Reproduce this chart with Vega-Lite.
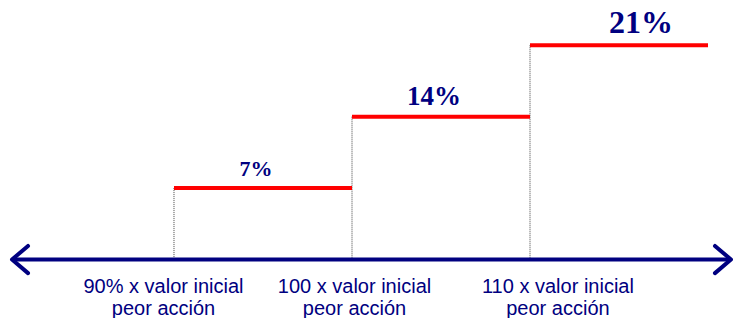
{
  "$schema": "https://vega.github.io/schema/vega-lite/v6.json",
  "width": 733,
  "height": 318,
  "autosize": {"type": "fit", "contains": "padding"},
  "padding": 0,
  "background": "white",
  "config": {"view": {"stroke": null}},
  "datasets": {
    "steps": [
      {"x": 1, "xend": 2, "pct": 7, "label": "7%", "lx": 1.461},
      {"x": 2, "xend": 3, "pct": 14, "label": "14%", "lx": 2.461},
      {"x": 3, "xend": 4, "pct": 21, "label": "21%", "lx": 3.624}
    ],
    "axis": [{"xa": 0.09, "xb": 4.129, "v": 0}],
    "arrows": [
      {"x": 0.09, "dir": "left", "v": 0},
      {"x": 4.129, "dir": "right", "v": 0}
    ],
    "cats": [
      {"lx": 0.941, "text": "90% x valor inicial\npeor acción", "v": 0},
      {"lx": 2.014, "text": "100 x valor inicial\npeor acción", "v": 0},
      {"lx": 3.157, "text": "110 x valor inicial\npeor acción", "v": 0}
    ]
  },
  "layer": [
    {
      "data": {"name": "steps"},
      "mark": {"type": "rule", "color": "#444444", "strokeWidth": 1, "strokeDash": [1, 1]},
      "encoding": {
        "x": {"field": "x", "type": "quantitative", "scale": {"domain": [0.0225, 4.1404], "nice": false, "zero": false}, "axis": null},
        "y": {"field": "pct", "type": "quantitative", "scale": {"domain": [-5.437, 25.437], "nice": false, "zero": false}, "axis": null},
        "y2": {"datum": 0}
      }
    },
    {
      "data": {"name": "steps"},
      "mark": {"type": "rule", "color": "#ff0000", "strokeWidth": 4},
      "encoding": {
        "x": {"field": "x", "type": "quantitative", "scale": {"domain": [0.0225, 4.1404], "nice": false, "zero": false}, "axis": null},
        "x2": {"field": "xend"},
        "y": {"field": "pct", "type": "quantitative", "scale": {"domain": [-5.437, 25.437], "nice": false, "zero": false}, "axis": null}
      }
    },
    {
      "data": {"name": "axis"},
      "mark": {"type": "rule", "color": "#000080", "strokeWidth": 4},
      "encoding": {
        "x": {"field": "xa", "type": "quantitative", "scale": {"domain": [0.0225, 4.1404], "nice": false, "zero": false}, "axis": null},
        "x2": {"field": "xb"},
        "y": {"field": "v", "type": "quantitative", "scale": {"domain": [-5.437, 25.437], "nice": false, "zero": false}, "axis": null}
      }
    },
    {
      "data": {"name": "arrows"},
      "mark": {"type": "point", "filled": false, "color": "#000080", "strokeWidth": 4, "strokeJoin": "round", "strokeCap": "round", "size": 1024, "opacity": 1},
      "encoding": {
        "x": {"field": "x", "type": "quantitative", "scale": {"domain": [0.0225, 4.1404], "nice": false, "zero": false}, "axis": null},
        "y": {"field": "v", "type": "quantitative", "scale": {"domain": [-5.437, 25.437], "nice": false, "zero": false}, "axis": null},
        "shape": {"field": "dir", "type": "nominal", "scale": {"domain": ["left", "right"], "range": ["M1,-0.85L0,0L1,0.85", "M-1,-0.85L0,0L-1,0.85"]}, "legend": null}
      }
    },
    {
      "data": {"name": "steps"},
      "mark": {"type": "text", "font": "Liberation Serif", "fontWeight": "bold", "color": "#000080", "baseline": "alphabetic", "align": "center", "dy": -12},
      "encoding": {
        "x": {"field": "lx", "type": "quantitative", "scale": {"domain": [0.0225, 4.1404], "nice": false, "zero": false}, "axis": null},
        "y": {"field": "pct", "type": "quantitative", "scale": {"domain": [-5.437, 25.437], "nice": false, "zero": false}, "axis": null},
        "text": {"field": "label"},
        "size": {"field": "pct", "type": "quantitative", "scale": {"domain": [7, 21], "range": [22, 32]}, "legend": null}
      }
    },
    {
      "data": {"name": "cats"},
      "mark": {"type": "text", "font": "Liberation Sans", "fontSize": 20, "color": "#000080", "baseline": "alphabetic", "align": "center", "dy": 33, "lineBreak": "\n", "lineHeight": 22},
      "encoding": {
        "x": {"field": "lx", "type": "quantitative", "scale": {"domain": [0.0225, 4.1404], "nice": false, "zero": false}, "axis": null},
        "y": {"field": "v", "type": "quantitative", "scale": {"domain": [-5.437, 25.437], "nice": false, "zero": false}, "axis": null},
        "text": {"field": "text"}
      }
    }
  ]
}
